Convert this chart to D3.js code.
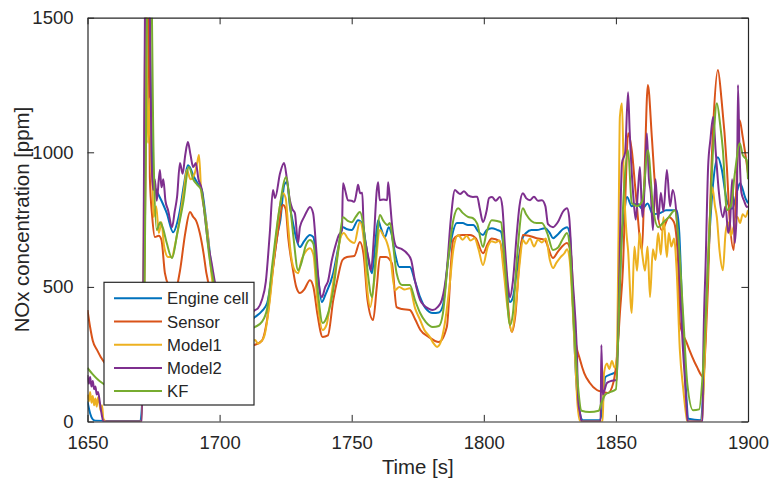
<!DOCTYPE html>
<html><head><meta charset="utf-8">
<script src="https://cdn.jsdelivr.net/npm/d3@7/dist/d3.min.js"></script>
<style>body{margin:0;background:#fff}svg{display:block}text{font-family:"Liberation Sans",Arial,Helvetica,sans-serif;fill:#262626}</style>
</head><body><svg id="c" width="771" height="483"></svg>
<script>
const seriesNames = ["Engine cell","Sensor","Model1","Model2","KF"];
const seriesColors = ["#0072BD","#D95319","#EDB120","#7E2F8E","#77AC30"];
const xTicks = [1650,1700,1750,1800,1850,1900];
const yTicks = [0,500,1000,1500];

const engineCell = [[1650,75],[1651,30],[1652,8],[1653,3],[1660,2],[1670,2],[1670.8,100],[1671.5,800],[1672,1600],[1673,1700],[1674,1200],[1674.8,885],[1676,860],[1678,820],[1680,774],[1682.4,703],[1684,740],[1685,785],[1686.5,880],[1688,952],[1689,940],[1690,915],[1692,880],[1693.3,860],[1694.5,780],[1695.5,700],[1697,562],[1699,450],[1702,360],[1706,340],[1710,360],[1713.4,388],[1716,410],[1718,440],[1720,560],[1722,700],[1723,748],[1724.5,880],[1725.5,890],[1726.6,800],[1727.8,737],[1729,680],[1730.4,648],[1732,670],[1734.2,693],[1735.5,685],[1737,560],[1738.7,444],[1740,470],[1743,551],[1745,650],[1746.7,722],[1748,715],[1750,711],[1752.4,748],[1754,735],[1755.5,650],[1756.7,580],[1757.7,551],[1758.8,650],[1760,748],[1761,720],[1762.6,685],[1764,722],[1765,700],[1766.4,625],[1768,574],[1772,574],[1774,520],[1775.9,462],[1778,420],[1780.7,403],[1783,405],[1784.5,430],[1786.5,600],[1788,690],[1789.8,737],[1792,737],[1794,730],[1796,730],[1798,705],[1799.7,693],[1801,710],[1803,718],[1805,712],[1806.5,705],[1808,600],[1809.9,444],[1811,460],[1812.5,560],[1814.8,685],[1816,700],[1818,711],[1820,711],[1823.2,718],[1825,700],[1826.2,681],[1828,695],[1830,715],[1831.5,722],[1832.5,700],[1833.9,388],[1835,150],[1836.4,30],[1837.5,5],[1844,5],[1845,60],[1846,165],[1848,175],[1850,185],[1851,350],[1852,650],[1853,760],[1854.2,834],[1856,800],[1858,810],[1860,790],[1862,810],[1864,770],[1866.7,774],[1869,785],[1873,785],[1874,700],[1875,450],[1876.5,120],[1877.5,10],[1882,5],[1883,100],[1884.5,500],[1886.8,885],[1888.6,982],[1890,940],[1892,820],[1894,790],[1896,860],[1897,885],[1899,830],[1900,811]];

const sensor = [[1650,414],[1651,350],[1652,300],[1653.6,266],[1655,240],[1658,200],[1662,170],[1666,150],[1670,140],[1671,200],[1672,1000],[1672.5,1600],[1673,1600],[1673.6,907],[1674.5,760],[1675.5,685],[1677,690],[1678,674],[1679.3,551],[1681,500],[1683,480],[1685,560],[1687,700],[1688.8,778],[1690,760],[1691,748],[1692.5,700],[1694,620],[1695,551],[1697,470],[1700,380],[1705,300],[1710,280],[1713.4,285],[1716,300],[1718,380],[1720,550],[1722,700],[1724,804],[1725,790],[1726,680],[1727.8,562],[1729,500],[1730.4,477],[1732,490],[1734.2,525],[1735.5,500],[1737,400],[1739,314],[1741,320],[1743,450],[1744.8,537],[1746.5,600],[1748.2,611],[1751,615],[1753.1,667],[1754.5,620],[1756,450],[1758.1,377],[1759.5,500],[1760.7,611],[1763,611],[1765.2,588],[1767,425],[1769,418],[1772,414],[1774,380],[1776,340],[1779,315],[1783,295],[1786,351],[1788.4,674],[1790,690],[1792,693],[1794.8,693],[1797,680],[1799.7,625],[1801.5,660],[1803,680],[1806,670],[1808,550],[1810.6,333],[1812,400],[1813.5,600],[1814.8,693],[1817,690],[1820,681],[1823,675],[1826.2,607],[1828,630],[1831.5,663],[1833,620],[1834.5,314],[1836.4,230],[1838,180],[1840,145],[1842.8,117],[1845,110],[1847,106],[1849,143],[1850.5,250],[1851.5,400],[1852.7,577],[1853.8,900],[1854.6,1071],[1856,1008],[1857.5,850],[1859.9,637],[1860.8,900],[1862.1,1250],[1863.6,1057],[1865,850],[1867.4,711],[1870.1,759],[1872,740],[1873.5,600],[1874.2,366],[1876.8,292],[1880.6,204],[1883,166],[1884,300],[1884.9,514],[1886,900],[1887,1131],[1888.6,1306],[1890,1194],[1892,945],[1893,760],[1894.6,637],[1895.5,850],[1896.8,1120],[1898,1057],[1900,922]];

const model1 = [[1650,100],[1650.5,75],[1651,110],[1651.5,70],[1652,95],[1652.5,60],[1653,85],[1653.5,55],[1654,90],[1654.5,70],[1655,40],[1655.5,60],[1656,10],[1657,0],[1670.5,0],[1671,300],[1671.5,1000],[1672,1600],[1672.9,1034],[1673.5,1200],[1674,950],[1674.5,900],[1675,760],[1676,800],[1677,700],[1678,740],[1679,650],[1680.5,611],[1682,611],[1683,650],[1685,759],[1686.5,860],[1687.6,934],[1689,900],[1690.5,920],[1691.5,960],[1692.2,990],[1693,860],[1694,800],[1695.2,722],[1697,540],[1699,420],[1702,320],[1706,300],[1710,290],[1713.4,303],[1714.5,290],[1716,300],[1717,320],[1719,450],[1721,650],[1722.5,780],[1724,848],[1725,830],[1726,720],[1727,620],[1728.5,560],[1729.7,551],[1731,600],[1732.5,630],[1734.2,644],[1735.5,620],[1737,450],[1739,340],[1740.5,360],[1742,450],[1744,580],[1746,690],[1747,700],[1748.5,680],[1749.5,670],[1751,663],[1753.1,741],[1754.5,680],[1756,480],[1757,425],[1758.5,520],[1760.7,711],[1762,690],[1763,674],[1764.5,620],[1766.4,488],[1768,500],[1770,490],[1772,495],[1774,420],[1775.9,377],[1777.5,340],[1779.6,314],[1781,290],[1782.3,277],[1783.5,290],[1785,350],[1787,500],[1788.5,640],[1790.3,693],[1792,675],[1793.5,690],[1795,672],[1796.5,681],[1798,640],[1799.7,581],[1801.5,650],[1803,670],[1804.5,665],[1806,672],[1807.5,560],[1809,420],[1810.6,333],[1812,420],[1813.5,580],[1814.8,674],[1816,660],[1817.5,680],[1819,650],[1820.5,675],[1822,665],[1823.5,680],[1825,600],[1826.2,570],[1827.5,590],[1829,610],[1830.5,625],[1831.5,640],[1832.5,600],[1833.5,450],[1834.5,250],[1835.5,60],[1836.5,0],[1845,0],[1845.5,180],[1846.6,215],[1847.5,195],[1848.5,225],[1849.5,200],[1850.3,230],[1851,700],[1851.5,1131],[1852.3,1182],[1853,900],[1854,700],[1854.6,637],[1856,403],[1857,650],[1858,560],[1859,700],[1860,620],[1861,560],[1862,650],[1862.9,462],[1864,640],[1865,600],[1866,700],[1867,620],[1868,759],[1869.3,611],[1870,700],[1871,650],[1872,680],[1873,560],[1874.2,266],[1875.5,120],[1876.5,30],[1877,0],[1882.5,0],[1883.5,200],[1884.5,500],[1885.5,750],[1886.5,870],[1887.5,800],[1888.2,759],[1889.2,637],[1890.5,562],[1891.5,700],[1892.5,740],[1893.5,690],[1894.5,720],[1896,760],[1897,737],[1898,770],[1899,760],[1900,785]];

const model2 = [[1650,172],[1650.5,140],[1651,165],[1651.5,130],[1652,150],[1652.5,120],[1653,130],[1653.5,100],[1654,110],[1654.7,69],[1655.3,30],[1656,0],[1670.6,0],[1671.2,600],[1671.8,1600],[1672.5,1800],[1673.5,1600],[1674.2,1000],[1674.8,860],[1675.5,900],[1676.2,820],[1677.4,934],[1678,870],[1678.7,900],[1679.5,820],[1680.5,785],[1682,722],[1683,780],[1683.9,834],[1685,960],[1686,920],[1687,990],[1688,1038],[1689,990],[1690,945],[1691,960],[1692,900],[1693.3,860],[1694,800],[1695.6,663],[1697,588],[1698,530],[1700,430],[1703,380],[1707,370],[1710,390],[1713.4,414],[1714.5,420],[1716,451],[1717.5,520],[1719,700],[1720.2,860],[1721,830],[1722.9,923],[1724.4,960],[1725.5,900],[1726.6,822],[1727.5,790],[1728.5,774],[1729.7,663],[1730.4,722],[1732,760],[1733,780],[1734.2,797],[1735.4,774],[1736.5,650],[1737.5,520],[1738.7,462],[1740,500],[1741,520],[1742.5,600],[1743.7,648],[1745,690],[1746.3,711],[1746.7,885],[1747.5,860],[1748.6,822],[1750,820],[1751,816],[1752,860],[1752.4,879],[1753.2,848],[1754,850],[1754.5,730],[1755.5,650],[1756.5,600],[1757.3,562],[1758.5,700],[1759.5,860],[1760,889],[1760.6,822],[1762,825],[1763.4,822],[1763.8,889],[1764.5,820],[1765.2,737],[1767,648],[1769,640],[1770.9,625],[1772.5,600],[1774,520],[1775.9,451],[1777.5,430],[1779,420],[1780.7,414],[1782.5,425],[1784.1,451],[1786,562],[1787.5,750],[1789.1,860],[1790,852],[1791,845],[1792.5,855],[1794,840],[1795.9,834],[1797.5,835],[1798.5,790],[1799.7,741],[1801,780],[1802,830],[1803.1,834],[1804.5,820],[1806.1,834],[1807,800],[1808,650],[1809.2,500],[1809.9,462],[1811,520],[1812.5,700],[1813.5,800],[1814.8,848],[1816,830],[1817.5,822],[1819,835],[1820.5,820],[1822,822],[1823.3,800],[1824.3,733],[1826.2,722],[1828,740],[1830,780],[1831.5,792],[1832.3,760],[1833.5,550],[1835.2,266],[1835.8,69],[1836.4,33],[1837,0],[1844.2,0],[1844.5,284],[1845,100],[1846.6,143],[1848,150],[1850.3,154],[1851,400],[1852.3,960],[1853.5,1000],[1854.6,1223],[1855.2,1082],[1856.5,850],[1857.5,750],[1858.3,850],[1859.1,945],[1860,760],[1861,900],[1861.7,1071],[1862.5,900],[1863.2,850],[1864,711],[1865,900],[1866,750],[1867,850],[1868,780],[1869.3,934],[1870.5,800],[1871.5,860],[1873,759],[1874.2,514],[1875.2,300],[1876.2,143],[1876.8,42],[1877.2,0],[1882.8,0],[1883,191],[1884,600],[1884.9,945],[1885.8,1050],[1886.8,1131],[1887.8,1000],[1889,850],[1890.5,759],[1891.5,800],[1892.5,700],[1893.2,737],[1894,900],[1895,663],[1895.8,800],[1896.2,1250],[1896.8,1000],[1897.5,850],[1898.5,820],[1899.6,797],[1900,800]];

const kf = [[1650,199],[1652,175],[1654,155],[1656,140],[1658,125],[1662,105],[1666,92],[1670,85],[1671,150],[1672,900],[1672.8,1700],[1674,1700],[1675,1000],[1676.2,711],[1677.5,740],[1678.5,720],[1680,663],[1682,607],[1684,700],[1686.2,811],[1688.4,945],[1690,900],[1691.5,880],[1693,860],[1694.5,760],[1696,620],[1697.5,530],[1700,420],[1704,350],[1708,330],[1713.4,351],[1716,370],[1718,420],[1720,588],[1722.5,780],[1725.2,908],[1726.5,820],[1728,680],[1729.7,562],[1731,590],[1732.5,650],[1734.2,674],[1735.5,660],[1737,500],[1739,366],[1741,400],[1743,488],[1745,640],[1746.7,759],[1748.5,745],[1750,740],[1751.5,760],[1753.1,778],[1754.5,720],[1756,560],[1757.7,462],[1759,600],[1760.7,767],[1762,745],[1763.5,730],[1764.5,737],[1765.5,670],[1767,551],[1769,507],[1772,507],[1774,450],[1775.9,403],[1778,370],[1780.7,351],[1783,355],[1784.5,400],[1786.5,600],[1788.5,750],[1790.3,792],[1792,775],[1794,760],[1795.9,755],[1797.5,735],[1799.7,648],[1801,700],[1803,748],[1805,745],[1806.5,740],[1808,580],[1809.9,358],[1811,400],[1812.5,600],[1814.8,792],[1816,770],[1818,745],[1820,737],[1822,737],[1824,700],[1826.2,637],[1828,645],[1830,680],[1831.5,700],[1832.5,650],[1834,380],[1835.5,150],[1837,40],[1840,35],[1843.5,40],[1844.5,69],[1846,100],[1848,110],[1850,120],[1851.5,514],[1853,850],[1854.6,1008],[1856,811],[1858,800],[1860,820],[1862.1,1008],[1864,800],[1866,722],[1868,740],[1870,759],[1872.3,785],[1873.5,700],[1875.5,388],[1877,143],[1879.2,42],[1881.5,45],[1883,200],[1884.5,500],[1885.6,759],[1887,1050],[1888.2,1182],[1889.5,1100],[1890.5,1008],[1892,785],[1893.5,800],[1895,920],[1896.9,1034],[1898,990],[1899.5,971],[1900,900]];

const allSeries = [engineCell, sensor, model1, model2, kf];

const svg = d3.select("#c");
const L = 87.5, T = 17.7, R = 748, B = 421.5;
const x = d3.scaleLinear().domain([1650,1900]).range([L,R]);
const y = d3.scaleLinear().domain([0,1500]).range([B,T]);
const axisColor = "#262626";
const tickLen = 6.6;

svg.append("defs").append("clipPath").attr("id","clip")
  .append("rect").attr("x",L).attr("y",T).attr("width",R-L).attr("height",B-T);

const line = d3.line().x(d=>x(d[0])).y(d=>y(d[1])).curve(d3.curveMonotoneX);
const g = svg.append("g").attr("clip-path","url(#clip)");
allSeries.forEach((s,i)=>{
  g.append("path").datum(s).attr("d",line).attr("fill","none")
   .attr("stroke",seriesColors[i]).attr("stroke-width",2).attr("stroke-linejoin","round");
});

function styleAxis(sel){
  sel.select(".domain").attr("stroke",axisColor).attr("stroke-width",1.2);
  sel.selectAll(".tick line").attr("stroke",axisColor).attr("stroke-width",1);
  sel.selectAll("text").style("font-size","18.5px").attr("fill",axisColor);
}
const xb = svg.append("g").attr("transform",`translate(0,${B})`)
  .call(d3.axisBottom(x).tickValues(xTicks).tickFormat(d3.format("d")).tickSizeInner(-tickLen).tickSizeOuter(0).tickPadding(14));
styleAxis(xb);
const xt = svg.append("g").attr("transform",`translate(0,${T})`)
  .call(d3.axisTop(x).tickValues(xTicks).tickFormat("").tickSizeInner(-tickLen).tickSizeOuter(0));
styleAxis(xt);
const yl = svg.append("g").attr("transform",`translate(${L},0)`)
  .call(d3.axisLeft(y).tickValues(yTicks).tickFormat(d3.format("d")).tickSizeInner(-tickLen).tickSizeOuter(0).tickPadding(14));
styleAxis(yl);
const yr = svg.append("g").attr("transform",`translate(${R},0)`)
  .call(d3.axisRight(y).tickValues(yTicks).tickFormat("").tickSizeInner(-tickLen).tickSizeOuter(0));
styleAxis(yr);

svg.append("text").attr("x",(L+R)/2).attr("y",474).attr("text-anchor","middle")
  .style("font-size","20.4px").text("Time [s]");
svg.append("text").attr("transform",`translate(29,${(T+B)/2}) rotate(-90)`).attr("text-anchor","middle")
  .style("font-size","20.4px").text("NOx concentration [ppm]");

// legend
const lg = svg.append("g");
lg.append("rect").attr("x",104).attr("y",282.3).attr("width",150).attr("height",122.7)
  .attr("fill","#fff").attr("stroke",axisColor).attr("stroke-width",1.2);
seriesNames.forEach((n,i)=>{
  const yy = 298.3 + i*23.2;
  lg.append("line").attr("x1",114).attr("x2",162).attr("y1",yy).attr("y2",yy)
    .attr("stroke",seriesColors[i]).attr("stroke-width",2);
  lg.append("text").attr("x",167).attr("y",yy).attr("dy","0.36em")
    .style("font-size","16.7px").text(n);
});
</script></body></html>
